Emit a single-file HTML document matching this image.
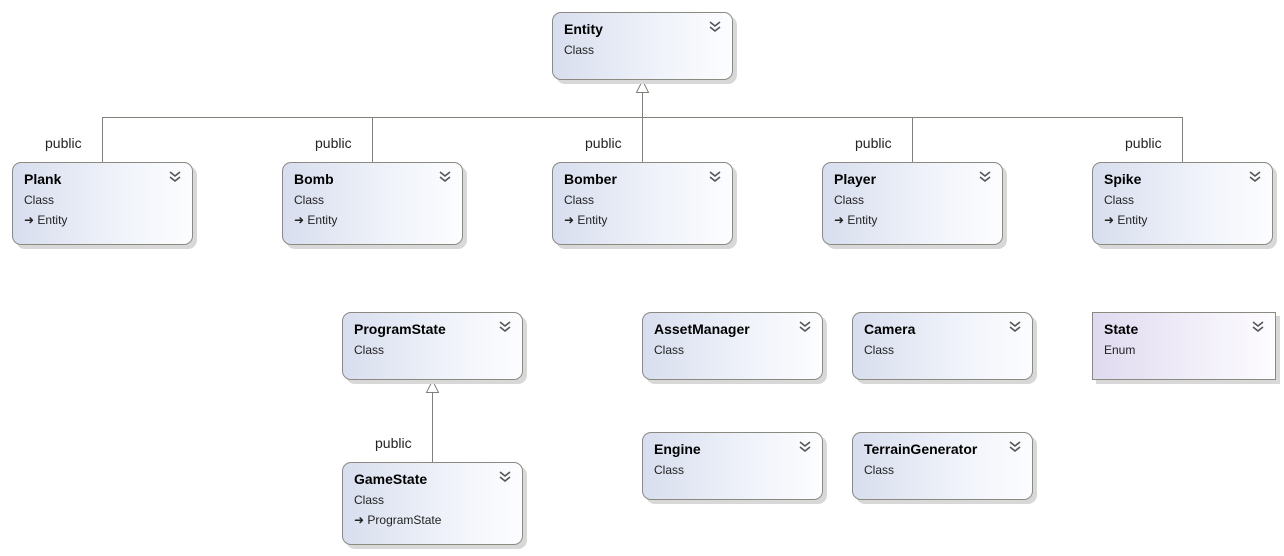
<!DOCTYPE html>
<html><head><meta charset="utf-8"><style>
body{margin:0;width:1284px;height:556px;background:#fff;position:relative;overflow:hidden;font-family:"Liberation Sans",sans-serif;}
.b{position:absolute;border:1px solid #8a8a80;border-radius:9px;background:linear-gradient(90deg,#d8deee,#f0f3fa 60%,#fcfdff);box-shadow:4px 4px 0 #d8d8d8;box-sizing:border-box;width:181px;}
.b .t{position:absolute;left:11px;top:8px;font-weight:bold;font-size:14px;color:#000;}
.b .c{position:absolute;left:11px;top:30px;font-size:12px;color:#222;}
.b .e{position:absolute;left:11px;top:50px;font-size:12px;color:#222;}
.b svg{position:absolute;right:11px;top:8px;}
.en{border-radius:0;background:linear-gradient(90deg,#e0daf0,#f2eff9 60%,#fdfcff);}
.l{position:absolute;background:#808078;}
.p{position:absolute;font-size:14px;color:#222;}
</style></head><body>
<div class="l" style="left:102px;top:117px;width:1081px;height:1px"></div>
<div class="l" style="left:102px;top:117px;width:1px;height:45px"></div>
<div class="l" style="left:372px;top:117px;width:1px;height:45px"></div>
<div class="l" style="left:642px;top:91px;width:1px;height:71px"></div>
<div class="l" style="left:912px;top:117px;width:1px;height:45px"></div>
<div class="l" style="left:1182px;top:117px;width:1px;height:45px"></div>
<div class="l" style="left:432px;top:391px;width:1px;height:71px"></div>
<svg style="position:absolute;left:0;top:0" width="1284" height="556">
<polygon points="642.5,80.5 636.5,92.5 648.5,92.5" fill="#fff" stroke="#808078"/>
<polygon points="432.5,380.5 426.5,392.5 438.5,392.5" fill="#fff" stroke="#808078"/>
</svg>
<div class="p" style="left:45px;top:135px">public</div>
<div class="p" style="left:315px;top:135px">public</div>
<div class="p" style="left:585px;top:135px">public</div>
<div class="p" style="left:855px;top:135px">public</div>
<div class="p" style="left:1125px;top:135px">public</div>
<div class="p" style="left:375px;top:435px">public</div>

<div class="b" style="left:552px;top:12px;height:68px"><div class="t">Entity</div><div class="c">Class</div><svg width="12" height="12"><path d="M1,1 6,5 11,1 M1,6 6,10 11,6" fill="none" stroke="#555" stroke-width="1.6"/></svg></div>
<div class="b" style="left:12px;top:162px;height:83px"><div class="t">Plank</div><div class="c">Class</div><div class="e">➜ Entity</div><svg width="12" height="12"><path d="M1,1 6,5 11,1 M1,6 6,10 11,6" fill="none" stroke="#555" stroke-width="1.6"/></svg></div>
<div class="b" style="left:282px;top:162px;height:83px"><div class="t">Bomb</div><div class="c">Class</div><div class="e">➜ Entity</div><svg width="12" height="12"><path d="M1,1 6,5 11,1 M1,6 6,10 11,6" fill="none" stroke="#555" stroke-width="1.6"/></svg></div>
<div class="b" style="left:552px;top:162px;height:83px"><div class="t">Bomber</div><div class="c">Class</div><div class="e">➜ Entity</div><svg width="12" height="12"><path d="M1,1 6,5 11,1 M1,6 6,10 11,6" fill="none" stroke="#555" stroke-width="1.6"/></svg></div>
<div class="b" style="left:822px;top:162px;height:83px"><div class="t">Player</div><div class="c">Class</div><div class="e">➜ Entity</div><svg width="12" height="12"><path d="M1,1 6,5 11,1 M1,6 6,10 11,6" fill="none" stroke="#555" stroke-width="1.6"/></svg></div>
<div class="b" style="left:1092px;top:162px;height:83px"><div class="t">Spike</div><div class="c">Class</div><div class="e">➜ Entity</div><svg width="12" height="12"><path d="M1,1 6,5 11,1 M1,6 6,10 11,6" fill="none" stroke="#555" stroke-width="1.6"/></svg></div>
<div class="b" style="left:342px;top:312px;height:68px"><div class="t">ProgramState</div><div class="c">Class</div><svg width="12" height="12"><path d="M1,1 6,5 11,1 M1,6 6,10 11,6" fill="none" stroke="#555" stroke-width="1.6"/></svg></div>
<div class="b" style="left:342px;top:462px;height:83px"><div class="t">GameState</div><div class="c">Class</div><div class="e">➜ ProgramState</div><svg width="12" height="12"><path d="M1,1 6,5 11,1 M1,6 6,10 11,6" fill="none" stroke="#555" stroke-width="1.6"/></svg></div>
<div class="b" style="left:642px;top:312px;height:68px"><div class="t">AssetManager</div><div class="c">Class</div><svg width="12" height="12"><path d="M1,1 6,5 11,1 M1,6 6,10 11,6" fill="none" stroke="#555" stroke-width="1.6"/></svg></div>
<div class="b" style="left:852px;top:312px;height:68px"><div class="t">Camera</div><div class="c">Class</div><svg width="12" height="12"><path d="M1,1 6,5 11,1 M1,6 6,10 11,6" fill="none" stroke="#555" stroke-width="1.6"/></svg></div>
<div class="b en" style="left:1092px;top:312px;height:68px;width:184px"><div class="t">State</div><div class="c">Enum</div><svg width="12" height="12"><path d="M1,1 6,5 11,1 M1,6 6,10 11,6" fill="none" stroke="#555" stroke-width="1.6"/></svg></div>
<div class="b" style="left:642px;top:432px;height:68px"><div class="t">Engine</div><div class="c">Class</div><svg width="12" height="12"><path d="M1,1 6,5 11,1 M1,6 6,10 11,6" fill="none" stroke="#555" stroke-width="1.6"/></svg></div>
<div class="b" style="left:852px;top:432px;height:68px"><div class="t">TerrainGenerator</div><div class="c">Class</div><svg width="12" height="12"><path d="M1,1 6,5 11,1 M1,6 6,10 11,6" fill="none" stroke="#555" stroke-width="1.6"/></svg></div>
</body></html>
